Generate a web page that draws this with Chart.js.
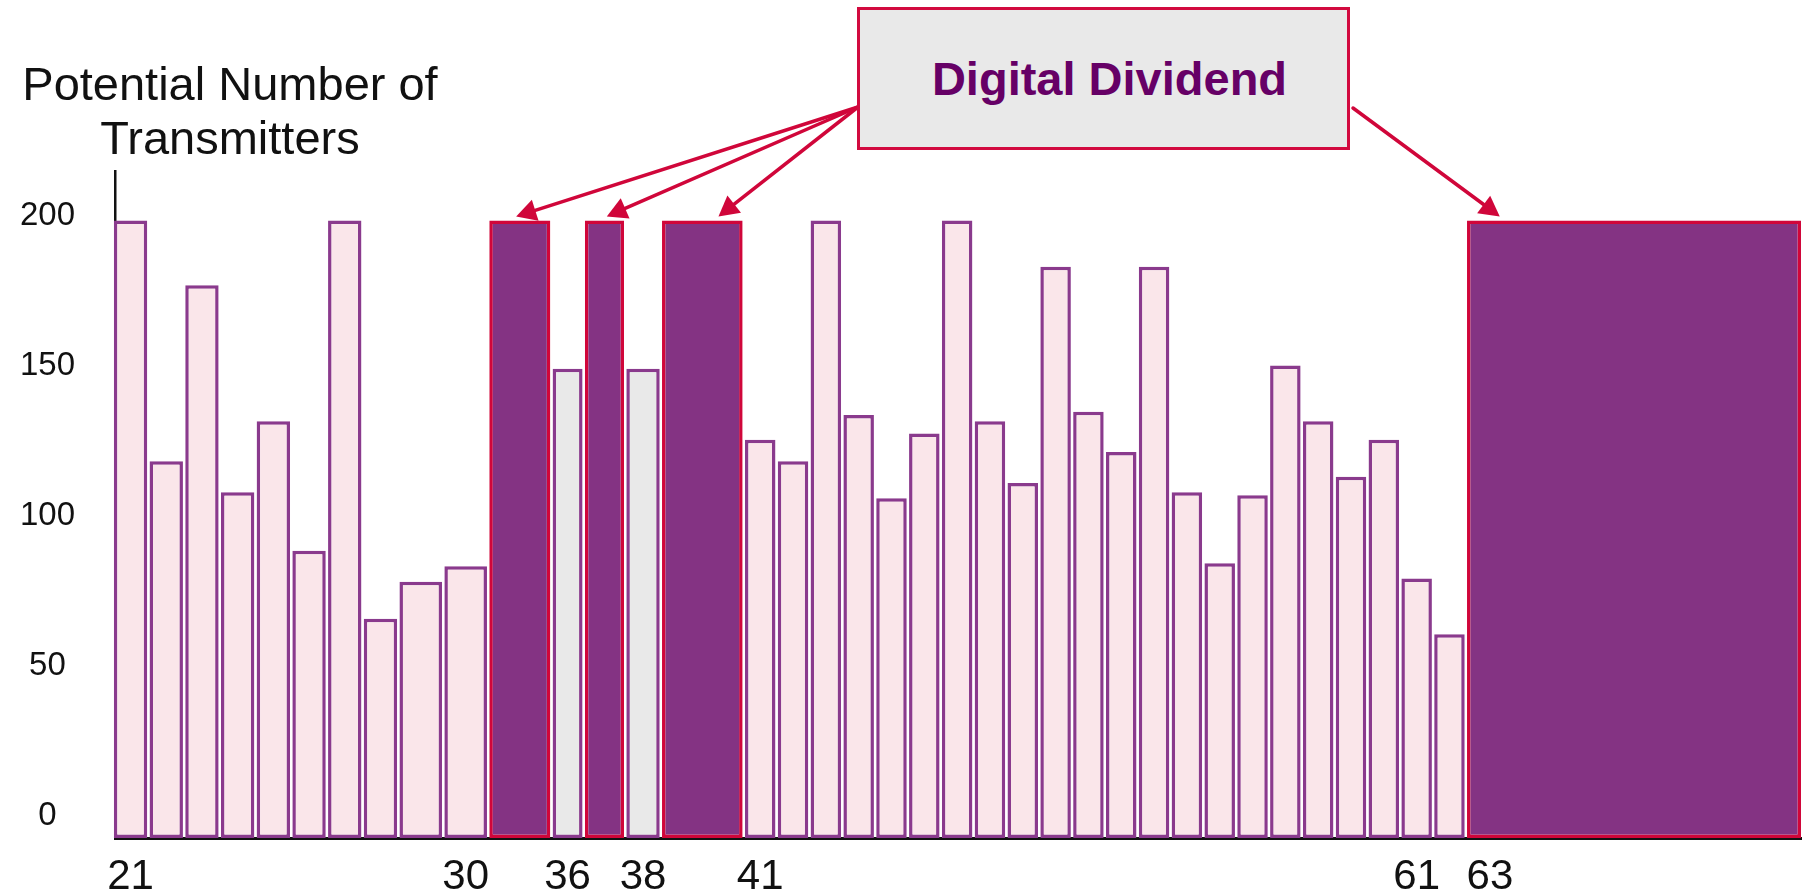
<!DOCTYPE html>
<html>
<head>
<meta charset="utf-8">
<title>Digital Dividend – Potential Number of Transmitters</title>
<script src="https://cdn.jsdelivr.net/npm/chart.js@4.4.1/dist/chart.umd.min.js"></script>
<style>
  html, body { margin: 0; padding: 0; background: #ffffff; }
  #wrap { position: relative; width: 1805px; height: 893px; overflow: hidden;
          font-family: 'Liberation Sans', Arial, Helvetica, sans-serif; }
  #chart { position: absolute; left: 0; top: 0; }
  #ytitle { position: absolute; left: 0; top: 57px; width: 460px; text-align: center;
            font-size: 47px; line-height: 54px; color: #111111; }
  #dd { position: absolute; left: 857px; top: 7px; width: 493px; height: 143px;
        box-sizing: border-box; border: 3px solid #D20A3F; background: #E9E9E9;
        display: flex; align-items: center; justify-content: center; padding-left: 12px;
        font-weight: bold; font-size: 47px; color: #660066; }
</style>
</head>
<body>
<div id="wrap">
  <canvas id="chart" width="1805" height="893"></canvas>
  <div id="ytitle">Potential Number of<br>Transmitters</div>
  <div id="dd">Digital Dividend</div>
</div>
<script>
// ---------------- DATA ----------------
// UHF channel slots (blocks of channels shown as one bar)
const channelSlots = ['21','22','23','24','25','26','27','28','29','30',
  '31-35','36','37','38','39-40',
  '41','42','43','44','45','46','47','48','49','50','51','52','53','54','55','56','57','58','59','60','61','62',
  '63-69'];
// potential number of transmitters per slot
const transmitters = [200,122,179,112,135,93,200,71,83,88,
  200,152,200,152,200,
  129,122,200,137,110,131,200,135,115,185,138,125,185,112,89,111,153,135,117,129,84,66,
  200];
// band use per slot
const bandUse = ['available','available','available','available','available','available','available','available','available','available',
  'dividend','reserved','dividend','reserved','dividend',
  'available','available','available','available','available','available','available','available','available','available','available',
  'available','available','available','available','available','available','available','available','available','available','available',
  'dividend'];
// tick labels
const xTickChannels = [21, 30, 36, 38, 41, 61, 63];
const yTickValues = [0, 50, 100, 150, 200];

// ---------------- LAYOUT (not data) ----------------
const LAYOUT = {
  // relative horizontal width of each slot as drawn in the original figure
  slotWidthUnits: [31,31,31,31,31,31,31,31,39,39,
    55,28,36,31,72,
    28.5,28.5,28.5,28.5,28.5,28.5,28.5,28.5,28.5,28.5,28.5,28.5,28.5,28.5,28.5,28.5,28.5,28.5,28.5,28.5,28.5,28.5,
    292],
  barGapUnits: 2,
  boxLeftAnchor: [858, 107],
  boxRightAnchor: [1353, 108]
};
const STYLE = {
  available: { bg: '#FAE6EA', border: '#8A3A8D' },
  dividend:  { bg: '#843383', border: '#D0063A' },
  reserved:  { bg: '#E9E9E9', border: '#8A3A8D' }
};
const FONT = "'Liberation Sans', Arial, Helvetica, sans-serif";

// ---------------- build bar points ----------------
const slotStart = [];
const points = [];
let cursor = 0;
channelSlots.forEach((label, i) => {
  const w = LAYOUT.slotWidthUnits[i];
  const g = LAYOUT.barGapUnits / 2;
  const l = cursor + g, r = cursor + w - g;
  slotStart.push(cursor);
  points.push({ x: l, y: null, slot: i });
  points.push({ x: (l + r) / 2, y: transmitters[i], slot: i });
  points.push({ x: r, y: null, slot: i });
  cursor += w;
});
const totalUnits = cursor;

function channelPos(ch) {
  for (let i = 0; i < channelSlots.length; i++) {
    const parts = channelSlots[i].split('-').map(Number);
    const first = parts[0], last = parts.length > 1 ? parts[1] : parts[0];
    if (ch >= first && ch <= last) {
      const span = last - first + 1;
      const w = LAYOUT.slotWidthUnits[i];
      return slotStart[i] + (ch - first + 0.5) * w / span;
    }
  }
  return 0;
}

// arrows from the annotation box to the dividend blocks
const dividendSlots = bandUse.map((u, i) => u === 'dividend' ? i : -1).filter(i => i >= 0);
const arrowTipFraction = [0.44, 0.56, 0.70, 0.098];
const arrowFrom = [LAYOUT.boxLeftAnchor, LAYOUT.boxLeftAnchor, LAYOUT.boxLeftAnchor, LAYOUT.boxRightAnchor];

function drawArrow(ctx, x0, y0, x1, y1) {
  const ang = Math.atan2(y1 - y0, x1 - x0);
  const L = 20, H = 11;
  const bx = x1 - L * Math.cos(ang), by = y1 - L * Math.sin(ang);
  ctx.save();
  ctx.strokeStyle = '#D0063A';
  ctx.fillStyle = '#D0063A';
  ctx.lineWidth = 3.5;
  ctx.lineCap = 'round';
  ctx.beginPath();
  ctx.moveTo(x0, y0);
  ctx.lineTo(bx, by);
  ctx.stroke();
  ctx.beginPath();
  ctx.moveTo(x1, y1);
  ctx.lineTo(bx - H * Math.sin(ang), by + H * Math.cos(ang));
  ctx.lineTo(bx + H * Math.sin(ang), by - H * Math.cos(ang));
  ctx.closePath();
  ctx.fill();
  ctx.restore();
}

const arrowPlugin = {
  id: 'ddArrows',
  afterDatasetsDraw(chart) {
    const meta = chart.getDatasetMeta(0);
    const ctx = chart.ctx;
    dividendSlots.forEach((slot, k) => {
      const el = meta.data[slot * 3 + 1];
      const p = el.getProps(['x', 'y', 'width'], true);
      const tx = p.x - p.width / 2 + arrowTipFraction[k] * p.width;
      const ty = p.y - 4;
      drawArrow(ctx, arrowFrom[k][0], arrowFrom[k][1], tx, ty);
    });
  }
};

function styleOf(c, key) {
  if (!c.raw || c.raw.y === null || c.raw.y === undefined) return 'rgba(0,0,0,0)';
  return STYLE[bandUse[c.raw.slot]][key];
}

new Chart(document.getElementById('chart'), {
  type: 'bar',
  data: {
    datasets: [{
      label: 'Potential Number of Transmitters',
      data: points,
      barThickness: 'flex',
      categoryPercentage: 2,
      barPercentage: 1,
      inflateAmount: 0,
      borderWidth: 3.5,
      borderSkipped: false,
      clip: false,
      backgroundColor: c => styleOf(c, 'bg'),
      borderColor: c => styleOf(c, 'border')
    }]
  },
  options: {
    responsive: false,
    animation: false,
    events: [],
    layout: { padding: { top: 171, right: 4, bottom: 0, left: 0 } },
    plugins: { legend: { display: false }, tooltip: { enabled: false }, title: { display: false } },
    scales: {
      x: {
        type: 'linear', min: 2, max: totalUnits - 1, offset: false, bounds: 'data',
        grid: { display: false, drawTicks: false },
        border: { display: true, color: '#111111', width: 3 },
        afterBuildTicks: s => { s.ticks = xTickChannels.map(c => ({ value: channelPos(c) })); },
        ticks: {
          autoSkip: false, maxRotation: 0, minRotation: 0, padding: 14,
          color: '#111111', font: { family: FONT, size: 42 },
          callback: (v, i) => String(xTickChannels[i])
        },
        afterFit: s => { s.height = 55; s.paddingLeft = 0; s.paddingRight = 0; }
      },
      y: { type: 'linear', display: false, min: 0, max: 216, bounds: 'data' },
      yl: {
        type: 'linear', axis: 'y', position: 'left', min: -7.33, max: 215, bounds: 'data',
        grid: { display: false, drawTicks: false },
        border: { display: true, color: '#111111', width: 2.5 },
        afterBuildTicks: s => { s.ticks = yTickValues.map(v => ({ value: v })); },
        ticks: {
          padding: 40, crossAlign: 'center', color: '#111111',
          font: { family: FONT, size: 33 },
          callback: v => String(v)
        },
        afterFit: s => { s.width = 115; s.paddingTop = 0; s.paddingBottom = 0; }
      }
    }
  },
  plugins: [arrowPlugin]
});
</script>
</body>
</html>
